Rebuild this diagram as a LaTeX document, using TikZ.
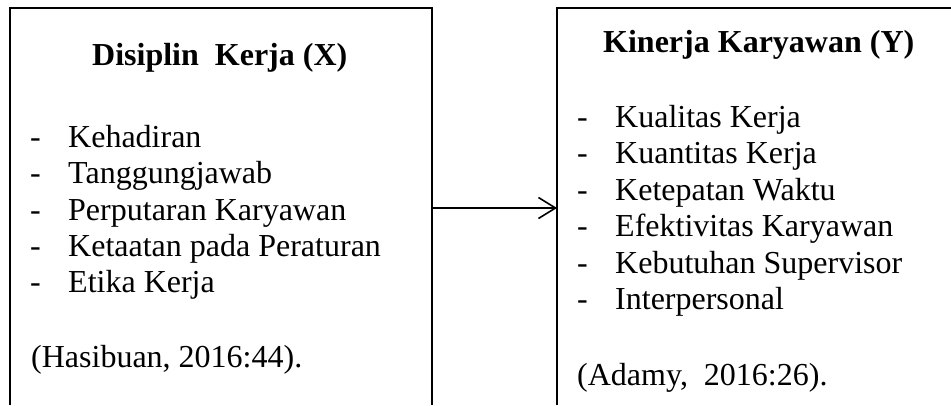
\documentclass[tikz,border=0pt]{standalone}
\usepackage{fontspec}
\setmainfont{Liberation Serif}
\usetikzlibrary{arrows.meta}
\begin{document}
\begin{tikzpicture}[x=1pt,y=1pt,
  txt/.style={anchor=base west,inner sep=0pt,font=\fontsize{32}{36.5}\selectfont},
  ttl/.style={anchor=base west,inner sep=0pt,font=\fontsize{32}{36.5}\selectfont\bfseries},
  boxline/.style={line width=1.6pt},
  conn/.style={line width=1.6pt,-{Straight Barb[length=17pt,width=21pt]}}]
\useasboundingbox (0,0) rectangle (951,-405);
% left box (open at bottom)
\coordinate (lbl) at (10,-405);
\coordinate (ltl) at (10,-8);
\coordinate (ltr) at (432,-8);
\coordinate (lbr) at (432,-405);
\draw[boxline] (lbl) -- (ltl) -- (ltr) -- (lbr);
% right box (open at bottom and right)
\coordinate (rbl) at (557,-405);
\coordinate (rtl) at (557,-8);
\coordinate (rtr) at (951,-8);
\draw[boxline] (rbl) -- (rtl) -- (rtr);
% left texts
\node[ttl] (lt) at (92,-65) {Disiplin\ \ Kerja (X)};
\node[txt] (ld1) at (30,-147) {-};
\node[txt] (l1) at (68,-147) {Kehadiran};
\node[txt] (ld2) at (30,-183.5) {-};
\node[txt] (l2) at (68,-183.5) {Tanggungjawab};
\node[txt] (ld3) at (30,-220) {-};
\node[txt] (l3) at (68,-220) {Perputaran Karyawan};
\node[txt] (ld4) at (30,-256) {-};
\node[txt] (l4) at (68,-256) {Ketaatan pada Peraturan};
\node[txt] (ld5) at (30,-292.5) {-};
\node[txt] (l5) at (68,-292.5) {Etika Kerja};
\node[txt] (lref) at (31,-367) {(Hasibuan, 2016:44).};
% right texts
\node[ttl] (rt) at (603,-52) {Kinerja Karyawan (Y)};
\node[txt] (rd1) at (577,-127) {-};
\node[txt] (r1) at (615,-127) {Kualitas Kerja};
\node[txt] (rd2) at (577,-163.5) {-};
\node[txt] (r2) at (615,-163.5) {Kuantitas Kerja};
\node[txt] (rd3) at (577,-200) {-};
\node[txt] (r3) at (615,-200) {Ketepatan Waktu};
\node[txt] (rd4) at (577,-236.5) {-};
\node[txt] (r4) at (615,-236.5) {Efektivitas Karyawan};
\node[txt] (rd5) at (577,-273) {-};
\node[txt] (r5) at (615,-273) {Kebutuhan Supervisor};
\node[txt] (rd6) at (577,-309.5) {-};
\node[txt] (r6) at (615,-309.5) {Interpersonal};
\node[txt] (rref) at (577,-385) {(Adamy,\ \ 2016:26).};
% connector
\coordinate (ain) at (432,-208);
\coordinate (aout) at (557,-208);
\draw[conn] (ain) -- (aout);
\end{tikzpicture}
\end{document}
